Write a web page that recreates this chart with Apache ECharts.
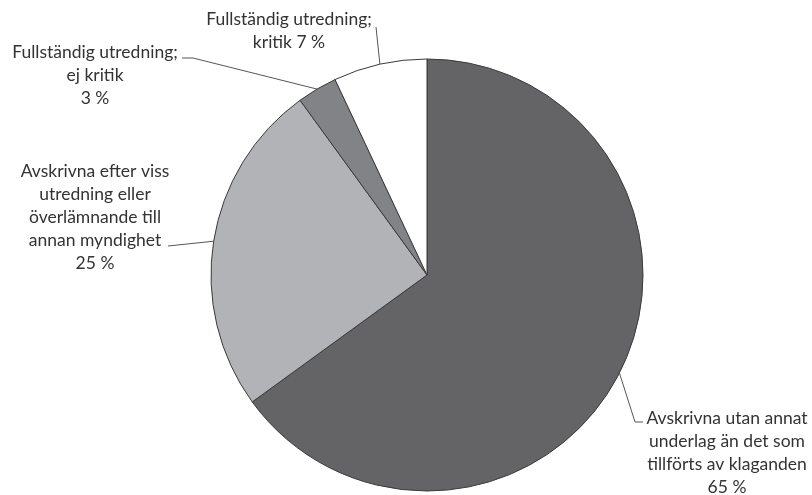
<!DOCTYPE html>
<html><head><meta charset="utf-8">
<script src="https://cdn.jsdelivr.net/npm/echarts@6/dist/echarts.min.js"></script>
<style>html,body{margin:0;padding:0;background:#fff}#c{width:812px;height:495px}</style>
</head><body><div id="c"></div>
<script>
var categories = [
  "Avskrivna utan annat\nunderlag än det som\ntillförts av klaganden",
  "Avskrivna efter viss\nutredning eller\növerlämnande till\nannan myndighet",
  "Fullständig utredning;\nej kritik",
  "Fullständig utredning;\nkritik"
];
var values = [65, 25, 3, 7];
var labelSep = ["\n", "\n", "\n", " "];
var colors = ["#646466", "#b2b3b6", "#828386", "#ffffff"];

// label placement (layout only)
var labelPos = [
  {x: 727, y: 453, line: [[635, 422], [643, 422]]},
  {x: 95, y: 217, line: [[168, 246]]},
  {x: 95, y: 75, line: [[193, 58], [182, 58]]},
  {x: 289, y: 31, line: [[376, 27]]}
];

var chart = echarts.init(document.getElementById('c'), null, {renderer: 'canvas'});
chart.setOption({
  animation: false,
  series: [{
    type: 'pie',
    center: [427, 275],
    radius: 216,
    startAngle: 90,
    clockwise: true,
    data: values.map(function (v, i) {
      return {value: v, name: categories[i], itemStyle: {color: colors[i]}};
    }),
    itemStyle: {borderColor: '#3a3a3a', borderWidth: 1},
    label: {
      show: true,
      position: 'outside',
      overflow: 'none',
      width: 300,
      formatter: function (p) { return p.name + labelSep[p.dataIndex] + p.value + ' %'; },
      fontFamily: 'Lato',
      fontSize: 17.5,
      lineHeight: 23,
      color: '#333333',
      align: 'center'
    },
    labelLine: {show: true, length: 10, length2: 10, lineStyle: {color: '#555', width: 1}},
    labelLayout: function (params) {
      var lp = labelPos[params.dataIndex];
      var p0 = params.labelLinePoints ? params.labelLinePoints[0] : null;
      var res = {x: lp.x, y: lp.y, align: 'center', verticalAlign: 'middle'};
      if (p0) res.labelLinePoints = [p0].concat(lp.line);
      return res;
    }
  }]
});
</script></body></html>
